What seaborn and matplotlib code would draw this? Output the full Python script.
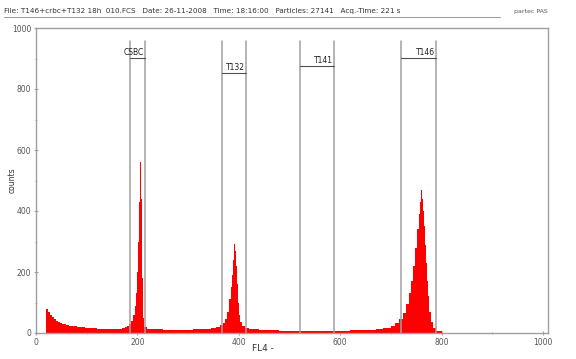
import matplotlib
matplotlib.use("Agg")
import matplotlib.pyplot as plt
import matplotlib.lines as mlines
import seaborn as sns
import pandas as pd

# Histogram bins (channel edges) and counts per bin
bin_edges = [0, 20, 24, 28, 32, 36, 40, 44, 48, 52, 56, 60, 66, 72, 80, 88, 96, 104, 112, 120,
             130, 140, 150, 160, 170, 176, 180, 184, 188, 192, 196, 198, 200, 202, 204, 206,
             208, 210, 212, 214, 218, 230, 250, 270, 290, 310, 330, 345, 355, 362, 368, 372,
             376, 380, 384, 386, 388, 390, 392, 394, 396, 398, 400, 402, 406, 412, 420, 440,
             460, 480, 500, 530, 560, 590, 620, 650, 670, 685, 700, 708, 716, 724, 730, 736,
             740, 744, 748, 752, 756, 758, 760, 762, 764, 766, 768, 770, 772, 774, 776, 780,
             784, 790, 800, 1024]
counts = [0, 78, 70, 60, 52, 45, 40, 36, 33, 30, 28, 26, 24, 22, 20, 19, 17, 16, 15,
          14, 13, 12, 13, 14, 17, 20, 24, 30, 40, 60, 90, 130, 200, 300, 430,
          560, 440, 180, 50, 20, 14, 12, 11, 10, 11, 12, 13, 16, 20, 25, 32,
          45, 70, 110, 150, 190, 240, 292, 270, 220, 160, 100, 60, 35, 22, 15, 12,
          10, 9, 8, 7, 6, 7, 8, 9, 11, 14, 18, 24, 32, 45, 65, 95,
          130, 170, 220, 280, 340, 390, 430, 470, 440, 400, 350, 290, 230, 170, 120, 70,
          35, 15, 5, 0]

# Gates
gate_names = ["CSBC", "T132", "T141", "T146"]
gate_left = [185, 366, 520, 721]
gate_right = [215, 414, 587, 790]
gate_level = [902, 852, 875, 902]

x_ticks = [0, 200, 400, 600, 800, 1000]
y_ticks = [0, 200, 400, 600, 800, 1000]

header = "File: T146+crbc+T132 18h  010.FCS   Date: 26-11-2008   Time: 18:16:00   Particles: 27141   Acq.-Time: 221 s"

sns.set_style("ticks")
plt.rcParams['font.family'] = ['DejaVu Sans']

fig = plt.figure(figsize=(5.76, 3.59), dpi=100)
ax = fig.add_axes([36/576, 26/359, 512/576, 305/359])

centers = [(a + b) / 2 for a, b in zip(bin_edges[:-1], bin_edges[1:])]
df = pd.DataFrame({"channel": centers, "n": counts})
sns.histplot(data=df, x="channel", weights="n", bins=list(bin_edges), element="step", fill=True,
             color="#ff0000", alpha=1, linewidth=0, ax=ax)

gray = "#a0a0a0"
for name, l, r, lev in zip(gate_names, gate_left, gate_right, gate_level):
    ax.plot([l, l], [0, 958], color=gray, lw=1.1, zorder=3)
    ax.plot([r, r], [0, 958], color=gray, lw=1.1, zorder=3)
    ax.plot([l, r], [lev, lev], color="#505050", lw=0.8, zorder=4)
    ax.text(r - 2, lev + 4, name, ha="right", va="bottom", fontsize=5.5, color="#222222", zorder=5)

ax.set_xlim(0, 1010)
ax.set_ylim(0, 1000)
ax.set_xticks(x_ticks)
ax.set_yticks(y_ticks)
ax.set_xticks([100, 300, 500, 700, 900], minor=True)
ax.set_yticks([100, 300, 500, 700, 900], minor=True)
ax.tick_params(axis="both", which="major", labelsize=5.5, labelcolor="#555555",
               color=gray, length=3, direction="inout", width=0.8, pad=2)
ax.tick_params(axis="both", which="minor", color=gray, length=2, direction="inout", width=0.6)
for s in ax.spines.values():
    s.set_color(gray)
    s.set_linewidth(1.0)
ax.set_ylabel("counts", fontsize=5.5, color="#333333")
ax.yaxis.set_label_coords(-0.047, 0.5)
ax.set_xlabel("FL4 -", fontsize=6.5, color="#333333")
ax.xaxis.set_label_coords(0.443, -0.052)
ax.xaxis.label.set_va("center")
ax.yaxis.label.set_va("center")

fig.text(4/576, 1 - 11/359, header, fontsize=5.2, color="#333333", va="center", ha="left")
fig.text(548/576, 1 - 11/359, "partec PAS", fontsize=4.5, color="#555555", va="center", ha="right")
fig.add_artist(mlines.Line2D([4/576, 500/576], [1 - 17/359, 1 - 17/359], color="#888888", lw=0.6))

fig.savefig("out.png", dpi=100)
